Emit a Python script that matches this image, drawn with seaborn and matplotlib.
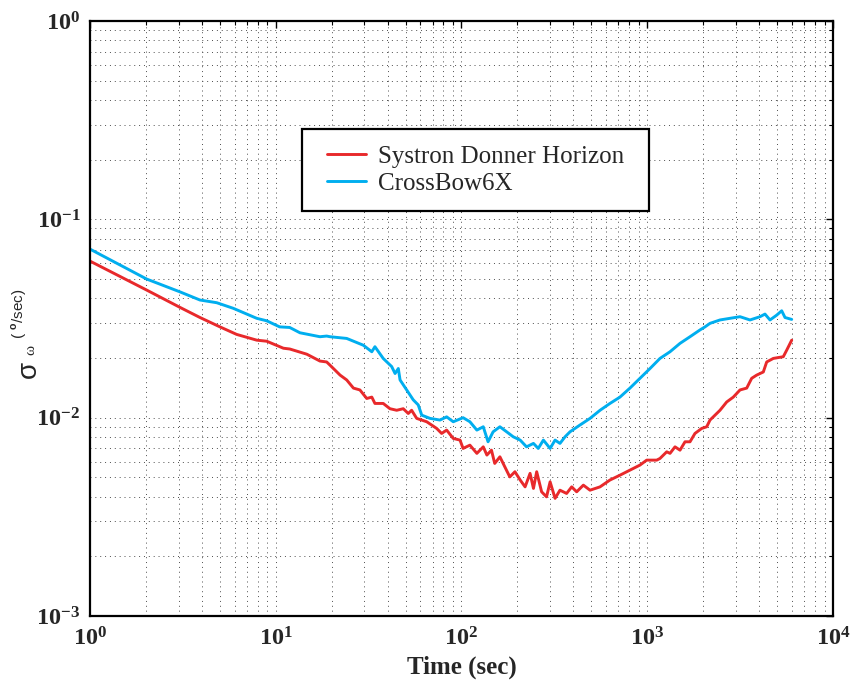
import pandas as pd
import matplotlib
matplotlib.use('Agg')
import matplotlib.pyplot as plt
from matplotlib.patches import Rectangle
from matplotlib.ticker import LogLocator, NullFormatter
import seaborn as sns

# Allan deviation curves
# Systron Donner Horizon
sdh_time = [1.0, 2.02, 3.05, 3.91, 5.01, 6.16, 7.90, 8.94, 11.0, 11.9, 14.7, 17.3,
            18.8, 19.6, 22.2, 24.1, 26.2, 28.4, 30.9, 32.9, 34.2, 37.9, 41.2, 44.8,
            48.6, 51.7, 53.9, 57.4, 65.0, 73.5, 78.2, 83.2, 90.3, 98.2, 102, 111,
            121, 131, 137, 145, 151, 161, 171, 182, 194, 207, 220, 234, 244, 254,
            270, 287, 300, 319, 339, 368, 392, 417, 453, 492, 557, 630, 713, 807,
            914, 993, 1124, 1171, 1273, 1326, 1411, 1501, 1597, 1699, 1807, 1964,
            2090, 2177, 2268, 2464, 2677, 2906, 3158, 3431, 3650, 3884, 4215, 4396,
            4771, 5400, 5633, 5995]
sdh_sigma = [0.0616, 0.0440, 0.0360, 0.0320, 0.0287, 0.0263, 0.0246, 0.0243, 0.0224,
             0.0222, 0.0209, 0.0193, 0.0191, 0.0184, 0.0164, 0.0155, 0.0141, 0.0138,
             0.0125, 0.0127, 0.0118, 0.0118, 0.0111, 0.0109, 0.0111, 0.0105, 0.0109,
             0.00992, 0.00954, 0.00883, 0.00833, 0.00866, 0.00786, 0.00771, 0.00700,
             0.00727, 0.00661, 0.00713, 0.00648, 0.00686, 0.00588, 0.00635, 0.00566,
             0.00503, 0.00534, 0.00485, 0.00448, 0.00524, 0.00440, 0.00534, 0.00423,
             0.00399, 0.00475, 0.00392, 0.00431, 0.00415, 0.00448, 0.00423, 0.00457,
             0.00431, 0.00448, 0.00485, 0.00513, 0.00544, 0.00577, 0.00611, 0.00611,
             0.00623, 0.00673, 0.00661, 0.00713, 0.00686, 0.00756, 0.00756, 0.00833,
             0.00883, 0.00900, 0.00973, 0.0101, 0.0109, 0.0120, 0.0127, 0.0138,
             0.0141, 0.0158, 0.0164, 0.0170, 0.0191, 0.0199, 0.0203, 0.0219, 0.0246]

# CrossBow6X
cb_time = [1.0, 2.02, 3.05, 3.91, 4.81, 5.91, 7.90, 8.94, 10.5, 11.9, 13.5, 17.3,
           18.8, 19.6, 24.1, 29.6, 32.9, 34.2, 37.9, 42.1, 43.9, 45.7, 46.7, 50.7,
           55.0, 58.5, 61.1, 67.7, 76.6, 83.2, 90.3, 102, 111, 121, 131, 139, 148,
           161, 175, 190, 207, 224, 244, 259, 276, 300, 319, 339, 361, 384, 434,
           492, 557, 630, 713, 807, 914, 1035, 1171, 1326, 1501, 1699, 1923, 2046,
           2177, 2464, 2789, 3158, 3574, 4046, 4304, 4580, 4977, 5294, 5516, 5995]
cb_sigma = [0.0708, 0.0500, 0.0431, 0.0392, 0.0380, 0.0356, 0.0317, 0.0308, 0.0287,
            0.0285, 0.0268, 0.0256, 0.0258, 0.0256, 0.0251, 0.0232, 0.0215, 0.0228,
            0.0199, 0.0181, 0.0167, 0.0177, 0.0155, 0.0138, 0.0123, 0.0116, 0.0103,
            0.00992, 0.00973, 0.0101, 0.00954, 0.0100, 0.00954, 0.00866, 0.00900,
            0.00756, 0.00849, 0.00900, 0.00849, 0.00801, 0.00771, 0.00713, 0.00742,
            0.00700, 0.00771, 0.00700, 0.00771, 0.00742, 0.00801, 0.00849, 0.00918,
            0.00992, 0.0109, 0.0118, 0.0127, 0.0141, 0.0158, 0.0177, 0.0199, 0.0215,
            0.0237, 0.0256, 0.0277, 0.0287, 0.0299, 0.0311, 0.0317, 0.0323, 0.0311,
            0.0323, 0.0333, 0.0311, 0.0329, 0.0346, 0.0320, 0.0313]

series_names = ['Systron Donner Horizon', 'CrossBow6X']
series_colors = ['#e8292b', '#00aeef']

df = pd.concat([
    pd.DataFrame({'time': sdh_time, 'sigma': sdh_sigma, 'sensor': series_names[0]}),
    pd.DataFrame({'time': cb_time, 'sigma': cb_sigma, 'sensor': series_names[1]}),
], ignore_index=True)

sns.set_style('white')
plt.rcParams['font.family'] = ['Liberation Serif', 'DejaVu Serif']
plt.rcParams['font.weight'] = 'bold'
plt.rcParams['mathtext.fontset'] = 'custom'
plt.rcParams['mathtext.rm'] = 'Liberation Sans'
plt.rcParams['axes.unicode_minus'] = False

fig = plt.figure(figsize=(8.52, 6.87), dpi=100)
ax = fig.add_axes([0.1056, 0.1033, 0.8721, 0.8661])

sns.lineplot(data=df, x='time', y='sigma', hue='sensor', palette=series_colors,
             estimator=None, sort=False, linewidth=2.1, legend=False, ax=ax)

ax.set_xscale('log')
ax.set_yscale('log')
ax.set_xlim(1, 1e4)
ax.set_ylim(1e-3, 1)
for axis in (ax.xaxis, ax.yaxis):
    axis.set_major_locator(LogLocator(base=10, numticks=10))
    axis.set_minor_locator(LogLocator(base=10, subs=range(2, 10), numticks=20))
    axis.set_minor_formatter(NullFormatter())

# matlab style dotted grid, inward ticks on every side
ax.grid(True, which='both', linestyle=(0, (1, 4)), color='0.3', linewidth=0.7)
ax.tick_params(which='both', direction='in', top=True, right=True, color='black')
ax.tick_params(which='major', length=5, width=1, labelsize=17.5)
ax.tick_params(axis='x', which='major', pad=8)
ax.tick_params(axis='y', which='major', pad=7)
ax.tick_params(which='minor', length=3, width=0.8)
for sp in ax.spines.values():
    sp.set_color('black')
    sp.set_linewidth(1.6)

ax.set_xlabel('Time (sec)', fontsize=18, fontweight='bold', labelpad=4)
ax.set_ylabel('')

# y label: sigma_omega with a small (o/sec) superscript
fig.text(29 / 852, 1 - 369 / 687, 'σ', rotation=90, fontsize=20, fontweight='normal',
         family='Liberation Sans', ha='center', va='center')
fig.text(31 / 852, 1 - 350 / 687, 'ω', rotation=90, fontsize=11, fontweight='normal',
         family='Liberation Serif', ha='center', va='center')
fig.text(19 / 852, 1 - 314 / 687, r'( $^{\mathrm{o}}$/sec)', rotation=90, fontsize=11,
         fontweight='normal', family='Liberation Sans', ha='center', va='center')

# legend box
ax.add_patch(Rectangle((0.2853, 0.6807), 0.4671, 0.1378, transform=ax.transAxes,
                       facecolor='white', edgecolor='black', linewidth=1.6, zorder=4))
ax.legend(handles=ax.lines[:2], labels=series_names, loc='center left',
          bbox_to_anchor=(0.319, 0.7496), frameon=False, borderpad=0, borderaxespad=0,
          handlelength=1.55, handletextpad=0.5, labelspacing=0.2,
          prop={'family': 'Liberation Serif', 'weight': 'normal', 'size': 18})

fig.savefig('out.png', dpi=100)
